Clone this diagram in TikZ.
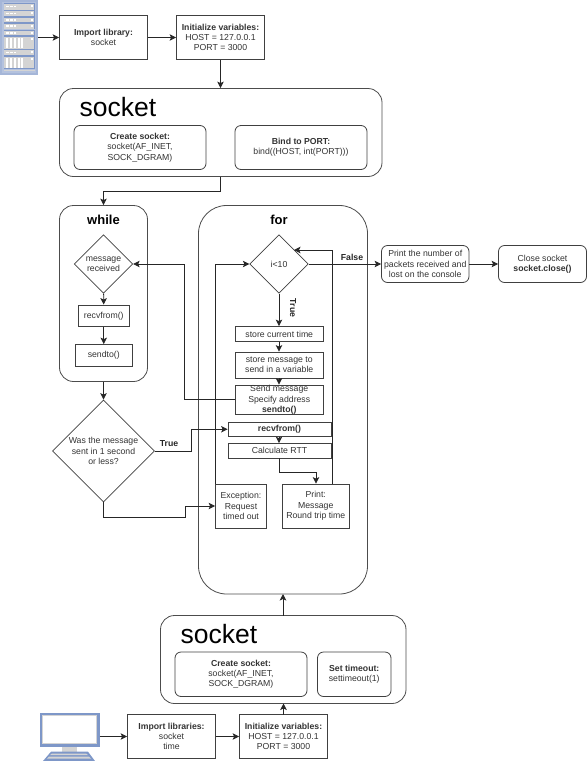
\documentclass[tikz,border=0pt]{standalone}
\usepackage{fontspec}
\setmainfont{Liberation Sans}
\usetikzlibrary{shapes.geometric,arrows.meta}
\definecolor{txt}{HTML}{333333}
\definecolor{icb}{HTML}{7E97C8}
\definecolor{icl}{HTML}{B4C2DE}
\definecolor{icg}{HTML}{D4D4D4}
\tikzset{
  base/.style={draw=black!75,line width=0.8pt,align=center,inner sep=0pt,font=\fontsize{8.7}{10.3}\selectfont,text=txt,execute at begin node={\vspace*{2pt}}},
  rbox/.style={base,rectangle,rounded corners=6pt},
  group/.style={draw=black!70,line width=0.8pt,rounded corners=#1},
  dia/.style={base,diamond,aspect=1},
  conn/.style={draw=black!85,line width=0.8pt,-{Stealth[length=6.5pt,width=6.5pt,inset=1.5pt]}},
  lab/.style={font=\fontsize{8.7}{10}\selectfont\bfseries,text=black!85,inner sep=0pt},
  title/.style={font=\fontsize{13}{15}\selectfont\bfseries,inner sep=0pt},
  big/.style={font=\fontsize{26.5}{29}\selectfont,inner sep=0pt}
}
\newcommand{\bx}[6]{\node[#1,minimum width=#4-#3,minimum height=#6-#5] (#2) at ({(#3+#4)/2},{(#5+#6)/2})}
\begin{document}
\begin{tikzpicture}[x=1pt,y=-1pt]
\useasboundingbox (0,0) rectangle (587,761);
% server icon
\fill[icb!70!white] (0,0) rectangle (38,75);
\fill[icl] (2,2) rectangle (36,73);
\foreach \y/\h in {4/5.5,11/5,17.5/4.5,23.5/5,30.5/4.5,50/5} {
  \fill[icb] (3.5,\y-0.7) rectangle (35,\y+\h+0.7);
  \fill[icg] (4.2,\y) rectangle (34.3,\y+\h);
  \fill[white] (6,\y+1.5) rectangle (9,\y+3);
  \fill[white] (10,\y+1.5) rectangle (12.5,\y+3);
  \fill[white] (13.5,\y+1.5) rectangle (16,\y+3);
  \fill[white] (30.5,\y+1.2) rectangle (32.5,\y+3.2);
}
\foreach \y/\h in {37/11.5,57/11} {
  \fill[icb] (3.5,\y-0.7) rectangle (35,\y+\h+0.7);
  \fill[icg] (4.2,\y) rectangle (34.3,\y+\h);
  \foreach \x in {6,10,14,17.5,21} \fill[white] (\x,\y+1) rectangle (\x+2,\y+\h-0.5);
  \fill[white] (30.5,\y+1.2) rectangle (32.5,\y+3.2);
}
\fill[icg] (3.5,69.5) rectangle (35,71);
\node[inner sep=0pt,minimum width=38pt,minimum height=75pt] (server) at (19,37.5) {};
% computer icon
\fill[icb] (39.5,712.5) rectangle (99.5,746.5);
\fill[icg] (41.7,714.7) rectangle (97.3,744.3);
\fill[white] (42.7,715.7) rectangle (96.3,743.3);
\fill[icg] (62,746.5) rectangle (77,752);
\fill[icb] (43,761) -- (51,751.7) -- (88,751.7) -- (95,761) -- cycle;
\fill[icg] (50,755) -- (52,753.5) -- (86,753.5) -- (88,755) -- cycle;
\fill[icg] (47,758.5) -- (49,756.5) -- (89,756.5) -- (91,758.5) -- cycle;
\node[inner sep=0pt,minimum width=60pt,minimum height=34pt] (pc) at (69.5,729.5) {};
% top
\bx{base}{lib}{59.5}{147.5}{15.5}{59.5} {\textbf{Import library:}\\socket};
\bx{base}{init}{176.5}{264.5}{15.5}{59.5} {\textbf{Initialize variables:}\\HOST = 127.0.0.1\\PORT = 3000};
\bx{group=14pt}{sockA}{59.5}{382}{88.5}{176.5} {};
\node[big,anchor=base west] (sockAt) at (79.5,116) {socket};
\bx{rbox}{createA}{74}{206}{125.5}{169.5} {\textbf{Create socket:}\\socket(AF\_INET,\\SOCK\_DGRAM)};
\bx{rbox}{bind}{235}{367}{125.5}{169.5} {\textbf{Bind to PORT:}\\bind((HOST, int(PORT)))};
% while
\bx{group=14pt}{while}{59.5}{147.5}{205.5}{381.5} {};
\node[title] (whilet) at (103.5,220) {while};
\node[dia,minimum size=58.5pt] (msg) at (103.5,264) {message\\received};
\bx{base}{recvA}{78}{129.5}{305}{326.5} {recvfrom()};
\bx{base}{sendA}{75}{132.5}{344.5}{366} {sendto()};
\node[dia,minimum size=102pt] (quest) at (103.5,451) {Was the message\\sent in 1 second\\or less?};
% for
\bx{group=28pt}{for}{198.5}{367.5}{205.5}{594} {};
\node[title] (fort) at (279,220) {for};
\node[dia,minimum size=58.5pt] (cond) at (279,264) {i<10};
\bx{base}{st}{235}{323.5}{326.5}{341.5} {store current time};
\bx{base}{sm}{235}{323.5}{352}{378} {store message to\\send in a variable};
\bx{base,execute at begin node={}}{send}{235}{323.5}{385}{414.5} {Send message\\Specify address\\\textbf{sendto()}};
\bx{base}{recv}{228}{331}{422}{436.5} {\textbf{recvfrom()}};
\bx{base}{rtt}{228}{331}{443.5}{458} {Calculate RTT};
\bx{base}{exc}{215.5}{266.5}{484}{528} {Exception:\\Request\\timed out};
\bx{base}{prt}{282.5}{349}{484}{528} {Print:\\Message\\Round trip time};
% right
\bx{rbox}{count}{381.5}{469}{245.5}{282.5} {Print the number of\\packets received and\\lost on the console};
\bx{rbox}{close}{498.5}{586.5}{245.5}{282.5} {Close socket\\\textbf{socket.close()}};
% bottom
\bx{group=14pt}{sockB}{160.5}{406}{615.5}{703.5} {};
\node[big,anchor=base west] (sockBt) at (180.5,643) {socket};
\bx{rbox}{createB}{175}{307}{652}{696.5} {\textbf{Create socket:}\\socket(AF\_INET,\\SOCK\_DGRAM)};
\bx{rbox}{timeout}{317.5}{391}{652}{696.5} {\textbf{Set timeout:}\\settimeout(1)};
\bx{base}{libB}{127.5}{215.5}{714.5}{758.5} {\textbf{Import libraries:}\\socket\\time};
\bx{base}{initB}{239.5}{327.5}{714.5}{758.5} {\textbf{Initialize variables:}\\HOST = 127.0.0.1\\PORT = 3000};
% connectors
\coordinate (c1) at (220,191);
\coordinate (c2) at (103.5,191);
\coordinate (c3) at (184,264);
\coordinate (c4) at (191,451);
\coordinate (c5) at (185,517);
\coordinate (c6) at (215.5,264);
\coordinate (c7) at (332,250);
\coordinate (c8) at (294,250);
\coordinate (c9) at (279,472);
\coordinate (c10) at (316,472);
\coordinate (c11) at (283,594);
\coordinate (c12) at (283,615.5);
\coordinate (c13) at (283.5,703.5);
\coordinate (c14) at (283.5,714.5);
\draw[conn] (server.east |- lib.west) -- (lib.west);
\draw[conn] (lib) -- (init);
\draw[conn] (init.south) -- (init.south |- sockA.north);
\draw[conn] (init.south |- sockA.south) |- (c2) -- (while.north -| c2);
\draw[conn] (msg) -- (recvA);
\draw[conn] (recvA) -- (sendA);
\draw[conn] (while.south -| quest) -- (quest.north);
\draw[conn] (send.west) -| (c3) -- (msg.east);
\draw[conn] (quest.east) -- (c4) |- (recv.west);
\draw[conn] (quest.south) |- (c5) |- (exc.west);
\draw[conn] (c6 |- exc.north) -- (c6) -- (cond.west);
\draw[conn] (c7 |- prt.north) -- (c7) -- (c8);
\draw[conn] (cond.south) -- (cond.south |- st.north);
\draw[conn] (st.south -| cond) -- (sm.north -| cond);
\draw[conn] (sm.south -| cond) -- (send.north -| cond);
\draw[conn] (recv.south -| cond) -- (rtt.north -| cond);
\draw[conn] (rtt.south -| cond) -- (c9) -- (c10) -- (c10 |- prt.north);
\draw[conn] (cond.east) -- (count.west);
\draw[conn] (count) -- (close);
\draw[conn] (pc.east |- libB.west) -- (libB.west);
\draw[conn] (libB) -- (initB);
\draw[conn] (c14) -- (c13);
\draw[conn] (c12) -- (c11);
% labels
\node[lab] (ltrue1) at (169,443.5) {True};
\node[lab,rotate=-90] (ltrue2) at (293,308) {True};
\node[lab] (lfalse) at (352,257) {False};
\end{tikzpicture}
\end{document}
